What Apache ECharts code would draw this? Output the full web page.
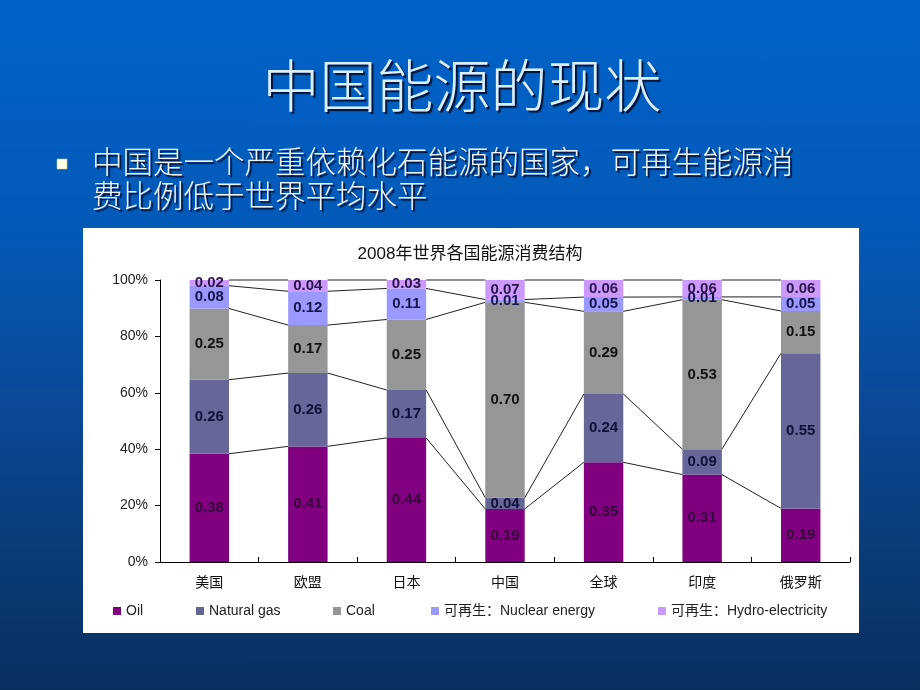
<!DOCTYPE html>
<html><head><meta charset="utf-8">
<script src="https://cdn.jsdelivr.net/npm/echarts@6/dist/echarts.min.js"></script>
<style>
html,body{margin:0;padding:0;overflow:hidden;}
#c{width:920px;height:690px;background:linear-gradient(180deg,#0063c9 0%,#0459b7 33%,#0a4a98 58%,#0a3b78 80%,#08305f 100%);}
</style></head><body><div id="c"></div>
<script>
const categories = ['美国','欧盟','日本','中国','全球','印度','俄罗斯'];
const oil        = [0.38,0.41,0.44,0.19,0.35,0.31,0.19];
const naturalGas = [0.26,0.26,0.17,0.04,0.24,0.09,0.55];
const coal       = [0.25,0.17,0.25,0.70,0.29,0.53,0.15];
const nuclear    = [0.08,0.12,0.11,0.01,0.05,0.01,0.05];
const hydro      = [0.02,0.04,0.03,0.07,0.06,0.06,0.06];
const seriesNames = ['Oil','Natural gas','Coal','可再生：Nuclear energy','可再生：Hydro-electricity'];
const slideTitle = '中国能源的现状';
const bulletLines = ['中国是一个严重依赖化石能源的国家，可再生能源消','费比例低于世界平均水平'];
const chartTitle = '2008年世界各国能源消费结构';

const raw = [oil, naturalGas, coal, nuclear, hydro];
const colors = ['#800080','#666699','#969696','#9999ff','#cc99ff'];
const labelColors = ['#35063a','#10103a','#111111','#15154a','#2a1448'];
const totals = categories.map((_, i) => raw.reduce((s, a) => s + a[i], 0));
const norm = raw.map(a => a.map((v, i) => v / totals[i]));
const cum = raw.map((_, k) => categories.map((_, i) => {
  let s = 0; for (let j = 0; j <= k; j++) s += norm[j][i]; return Math.min(s, 1);
}));
const lineData = [];
for (let i = 0; i < categories.length - 1; i++) {
  for (let k = 0; k < raw.length; k++) lineData.push([i, cum[k][i], cum[k][i + 1]]);
}
const FONT = "'Liberation Sans', Arial, 'Noto Sans CJK SC', sans-serif";
const CJK = "'Noto Sans CJK SC', sans-serif";
const BARW = 0.4;

const barSeries = raw.map((arr, k) => ({
  name: seriesNames[k], type: 'bar', stack: 'total', barWidth: (BARW * 100) + '%',
  itemStyle: { color: colors[k] },
  data: norm[k],
  label: {
    show: true, position: 'inside', fontFamily: FONT, fontSize: 15, fontWeight: 'bold',
    color: labelColors[k],
    formatter: p => raw[k][p.dataIndex].toFixed(2)
  },
  z: 3
}));

const legendLefts = [113, 196, 333, 431, 658];
const legends = seriesNames.map((n, k) => ({
  data: [n], left: legendLefts[k], top: 604, icon: 'rect', itemWidth: 8, itemHeight: 8,
  itemGap: 5, padding: 0, selectedMode: false,
  textStyle: { fontFamily: FONT, fontSize: 14, color: '#222' }
}));

const shadowText = (size, col) => ({
  fontFamily: CJK, fontSize: size, fontWeight: 300, color: col,
  textShadowColor: 'rgba(3,15,50,0.95)', textShadowOffsetX: 2, textShadowOffsetY: 2, textShadowBlur: 1
});

const chart = echarts.init(document.getElementById('c'), null, { renderer: 'canvas' });
chart.setOption({
  backgroundColor: 'transparent',
  animation: false,
  title: [
    { text: slideTitle, left: 462, textAlign: 'center', top: 57, padding: 0, textStyle: shadowText(57, '#dcefff') },
    { text: bulletLines[0], left: 92, top: 146, padding: 0, textStyle: shadowText(30.5, '#eef5ff') },
    { text: bulletLines[1], left: 92, top: 180, padding: 0, textStyle: shadowText(30.5, '#eef5ff') },
    { text: chartTitle, left: 470, textAlign: 'center', top: 246, padding: 0,
      textStyle: { fontFamily: FONT, fontSize: 17, fontWeight: 'normal', color: '#111' } }
  ],
  graphic: [
    { type: 'rect', z: -10, shape: { x: 83, y: 228, width: 776, height: 405 }, style: { fill: '#ffffff' } },
    { type: 'rect', z: 5, shape: { x: 57, y: 159, width: 10, height: 10 }, style: { fill: '#fffbe3', stroke: '#c8c8a0', lineWidth: 0.5 } }
  ],
  legend: legends,
  grid: { left: 160, right: 70, top: 280, bottom: 128, containLabel: false },
  xAxis: {
    type: 'category', data: categories,
    axisLine: { lineStyle: { color: '#000', width: 1 } },
    axisTick: { show: true, inside: true, length: 5, lineStyle: { color: '#000' } },
    axisLabel: { fontFamily: FONT, fontSize: 14, color: '#111', margin: 14, interval: 0 },
    splitLine: { show: false }
  },
  yAxis: {
    type: 'value', min: 0, max: 1, interval: 0.2,
    axisLine: { show: true, lineStyle: { color: '#000', width: 1 } },
    axisTick: { show: true, inside: false, length: 5, lineStyle: { color: '#000' } },
    axisLabel: { fontFamily: FONT, fontSize: 14, color: '#222', margin: 12,
      formatter: v => Math.round(v * 100) + '%' },
    splitLine: { show: false }
  },
  series: barSeries.concat([{
    type: 'custom', name: 'serieslines', coordinateSystem: 'cartesian2d',
    encode: { x: 0, y: [1, 2] }, data: lineData, silent: true, z: 4,
    renderItem: (params, api) => {
      const i = api.value(0);
      const p1 = api.coord([i, api.value(1)]);
      const p2 = api.coord([i + 1, api.value(2)]);
      const half = api.size([1, 0])[0] * BARW / 2;
      return { type: 'line', shape: { x1: p1[0] + half, y1: p1[1], x2: p2[0] - half, y2: p2[1] },
        style: { stroke: '#222', lineWidth: 1 } };
    }
  }])
});
</script></body></html>
